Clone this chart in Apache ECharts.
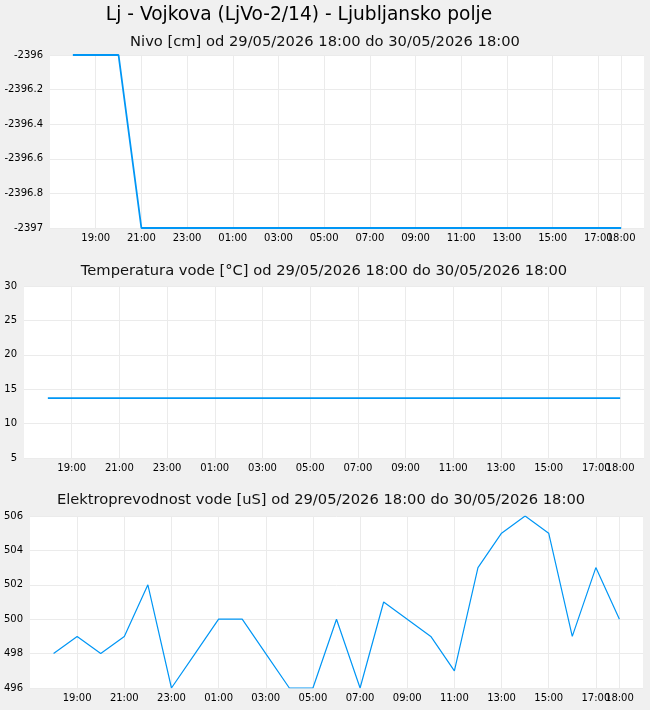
<!DOCTYPE html>
<html>
<head>
<meta charset="utf-8">
<script src="https://cdn.jsdelivr.net/npm/echarts@6/dist/echarts.min.js"></script>
<style>
html,body{margin:0;padding:0;background:#f0f0f0;}
#c{width:650px;height:710px;}
</style>
</head>
<body>
<div id="c"></div>
<script>
// Hourly samples from 29/05/2026 18:00 to 30/05/2026 18:00
const startHour = 18;
const times = ['18:00','19:00','20:00','21:00','22:00','23:00','00:00','01:00','02:00','03:00','04:00','05:00','06:00','07:00','08:00','09:00','10:00','11:00','12:00','13:00','14:00','15:00','16:00','17:00','18:00'];
const nivo = [-2396,-2396,-2396,-2397,-2397,-2397,-2397,-2397,-2397,-2397,-2397,-2397,-2397,-2397,-2397,-2397,-2397,-2397,-2397,-2397,-2397,-2397,-2397,-2397,-2397];
const temperatura = [13.7,13.7,13.7,13.7,13.7,13.7,13.7,13.7,13.7,13.7,13.7,13.7,13.7,13.7,13.7,13.7,13.7,13.7,13.7,13.7,13.7,13.7,13.7,13.7,13.7];
const prevodnost = [498,499,498,499,502,496,498,500,500,498,496,496,500,496,501,500,499,497,503,505,506,505,499,503,500];
// tick positions (hours after start) : 19:00, 21:00, ... 17:00 and the end tick 18:00
const tickHours = [1,3,5,7,9,11,13,15,17,19,21,23];
const endTickHours = [24];

const mainTitle = 'Lj - Vojkova (LjVo-2/14) - Ljubljansko polje';
const subTitles = [
  'Nivo [cm] od 29/05/2026 18:00 do 30/05/2026 18:00',
  'Temperatura vode [°C] od 29/05/2026 18:00 do 30/05/2026 18:00',
  'Elektroprevodnost vode [uS] od 29/05/2026 18:00 do 30/05/2026 18:00'
];

const FONT = 'DejaVu Sans';
const LINE = '#0096f5';
const GRIDC = '#ebebeb';

function toPairs(arr){ return arr.map((v,i)=>[i,v]); }
function hourLabel(v){
  const h = (startHour + Math.round(v)) % 24;
  return (h<10?'0':'')+h+':00';
}

const grids = [
  {left:50, right:6, top:55, height:173},
  {left:24, right:6, top:286, height:172},
  {left:30, right:7, top:516, height:172}
].map(g=>Object.assign(g,{show:true, backgroundColor:'#ffffff', borderWidth:0}));

const yCfg = [
  {min:-2397, max:-2396, interval:0.2},
  {min:5, max:30, interval:5},
  {min:496, max:506, interval:2}
];

function makeX(i, vals){
  return {
    type:'value', gridIndex:i, min:-1, max:25, position:'bottom',
    axisLine:{show:false},
    axisTick:{show:false, customValues:vals},
    axisLabel:{customValues:vals, formatter:hourLabel, color:'#000', fontFamily:FONT, fontSize:10, margin:5,
      hideOverlap:false, showMaxLabel:true, showMinLabel:true},
    splitLine:{show:true, lineStyle:{color:GRIDC, width:1}}
  };
}
const xAxes = [];
grids.forEach((g,i)=>{ xAxes.push(makeX(i, tickHours)); });
grids.forEach((g,i)=>{ xAxes.push(makeX(i, endTickHours)); });

const yAxes = yCfg.map((c,i)=>({
  type:'value', gridIndex:i, min:c.min, max:c.max, interval:c.interval,
  axisLine:{show:false}, axisTick:{show:false},
  axisLabel:{color:'#000', fontFamily:FONT, fontSize:10, margin:7,
    formatter:v=>String(+v.toFixed(1))},
  splitLine:{show:true, lineStyle:{color:GRIDC, width:1}}
}));

const seriesData = [nivo, temperatura, prevodnost];
const series = seriesData.map((d,i)=>({
  type:'line', xAxisIndex:i, yAxisIndex:i, data:toPairs(d),
  showSymbol:false, symbol:'none',
  lineStyle:{color:LINE, width:i===2?1.2:1.8},
  animation:false, z:5
}));

const titles = [
  {text:mainTitle, left:294, top:1, textAlign:'center', textStyle:{fontFamily:FONT, fontSize:18.6, fontWeight:'normal', color:'#000'}},
  {text:subTitles[0], left:320, top:30, textAlign:'center', textStyle:{fontFamily:FONT, fontSize:14.7, fontWeight:'normal', color:'#111'}},
  {text:subTitles[1], left:319, top:259, textAlign:'center', textStyle:{fontFamily:FONT, fontSize:14.7, fontWeight:'normal', color:'#111'}},
  {text:subTitles[2], left:316, top:488, textAlign:'center', textStyle:{fontFamily:FONT, fontSize:14.7, fontWeight:'normal', color:'#111'}}
];

const chart = echarts.init(document.getElementById('c'), null, {renderer:'canvas'});
chart.setOption({
  backgroundColor:'#f0f0f0',
  animation:false,
  title:titles,
  grid:grids,
  xAxis:xAxes,
  yAxis:yAxes,
  series:series
});
</script>
</body>
</html>
